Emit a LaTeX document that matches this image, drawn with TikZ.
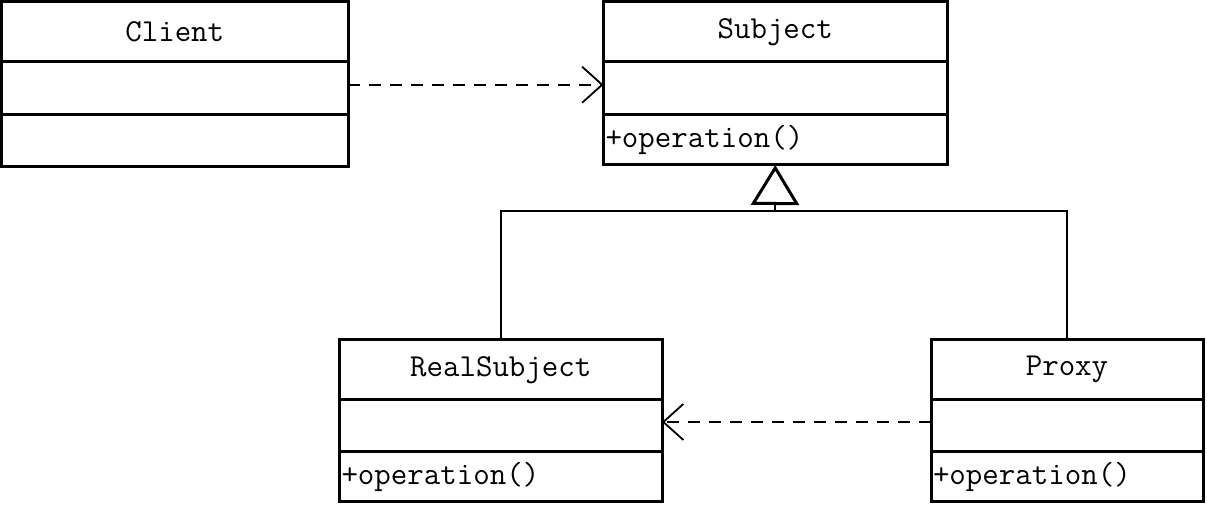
\documentclass[tikz,border=0pt]{standalone}
\usepackage{fontspec}
\usetikzlibrary{positioning,arrows.meta}
\tikzstyle{cls} = [rectangle, draw, line width=1.5pt, outer sep=0pt, inner sep=1pt,
    font=\fontsize{16}{18}\selectfont\ttfamily]
\tikzstyle{head} = [cls, minimum height=30.25pt]
\tikzstyle{attr} = [cls, minimum height=26.25pt]
\tikzstyle{meth} = [cls, minimum height=25.25pt, align=left]
\tikzstyle{dep} = [draw, line width=0.9pt, dash pattern=on 6pt off 4.5pt,
    -{Straight Barb[length=10pt, width=18pt]}]
\tikzstyle{gen} = [draw, line width=0.8pt]

\begin{document}
\begin{tikzpicture}[x=0.5pt, y=-0.5pt]
    \useasboundingbox (0,0) rectangle (1207,507);
    % Place nodes
    \node [head, minimum width=173.25pt, anchor=north west] (client) at (1.5,1.5) {Client};
    \node [attr, minimum width=173.25pt, below=0pt of client] (clientattr) {};
    \node [attr, minimum width=173.25pt, below=0pt of clientattr] (clientmeth) {};

    \node [head, minimum width=171.75pt, anchor=north west] (subject) at (603.5,1.5) {Subject};
    \node [attr, minimum width=171.75pt, below=0pt of subject] (subjectattr) {};
    \node [meth, text width=169.75pt, below=0pt of subjectattr] (subjectmeth) {+operation()};

    \node [head, minimum width=161.25pt, anchor=north west] (real) at (339.5,339.5) {RealSubject};
    \node [attr, minimum width=161.25pt, minimum height=26pt, below=0pt of real] (realattr) {};
    \node [meth, text width=159.25pt, minimum height=25pt, below=0pt of realattr] (realmeth) {+operation()};

    \node [head, minimum width=136pt, anchor=north west] (proxy) at (931,339.5) {Proxy};
    \node [attr, minimum width=136pt, minimum height=26pt, below=0pt of proxy] (proxyattr) {};
    \node [meth, text width=134pt, minimum height=25pt, below=0pt of proxyattr] (proxymeth) {+operation()};

    \coordinate (join) at (775,211);
    % Draw edges
    \path [dep] ([yshift=1.75pt]clientattr.east) -- ([yshift=1.75pt]subjectattr.west);
    \path [dep] ([yshift=2pt]proxyattr.west) -- ([yshift=2pt]realattr.east);
    \path [gen] (real.north) |- (join) -| (proxy.north);
    \path [gen, -{Triangle[open, length=20pt, width=24pt, line width=1.5pt]}] (join) -- (subjectmeth.south);
\end{tikzpicture}
\end{document}
